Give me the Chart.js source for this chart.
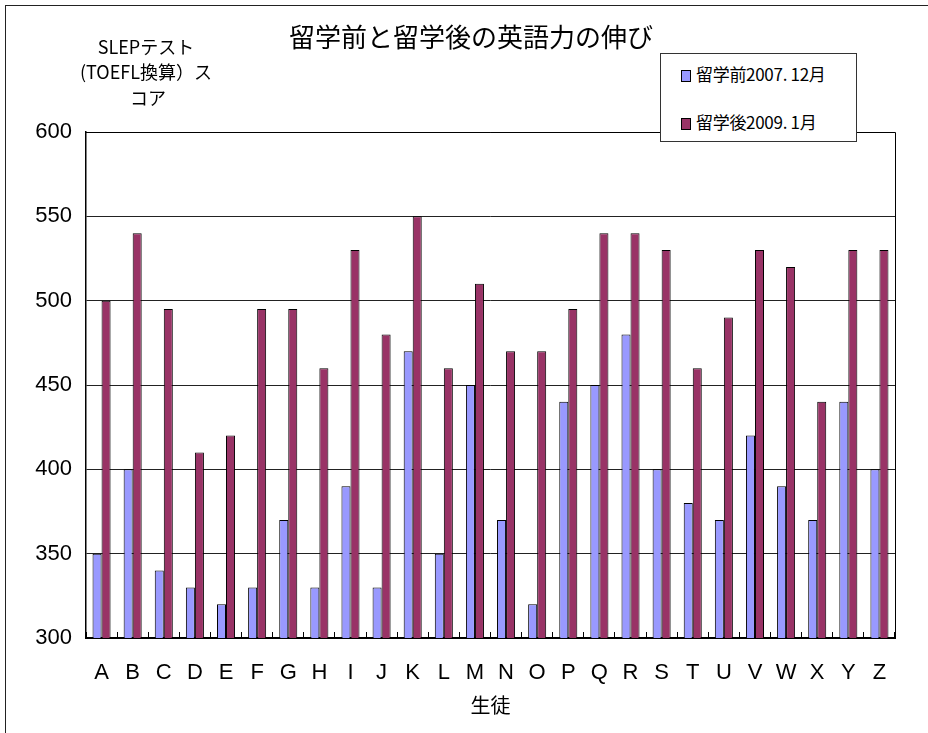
<!DOCTYPE html>
<html>
<head>
<meta charset="utf-8">
<script src="https://cdn.jsdelivr.net/npm/chart.js@4/dist/chart.umd.min.js"></script>
<style>
  html, body { margin: 0; padding: 0; background: #fff; overflow: hidden; }
  #wrap { position: relative; width: 928px; height: 733px; }
  #frame { position: absolute; left: 5px; top: 5px; width: 1000px; height: 1000px; border: 1px solid #222; pointer-events: none; }
  #legend { position: absolute; left: 660px; top: 53px; width: 195px; height: 87px; border: 1px solid #333;
            background: #fff; font-family: 'Noto Sans CJK JP', sans-serif; font-size: 17px; color: #000; }
  .item { position: absolute; left: 20px; height: 22px; line-height: 22px; white-space: nowrap; letter-spacing: -0.3px; }
  .box { display: inline-block; width: 8px; height: 10px; border: 1px solid #000; margin-right: 5px; vertical-align: -1px; }
</style>
</head>
<body>
<div id="wrap">
  <canvas id="c" width="928" height="733"></canvas>
  <div id="frame"></div>
  <div id="legend">
    <div class="item" style="top:9px"><span class="box" style="background:#9999ff"></span>留学前2007. 12月</div>
    <div class="item" style="top:57px"><span class="box" style="background:#993366"></span>留学後2009. 1月</div>
  </div>
</div>
<script>
'use strict';
// data
const students = ['A','B','C','D','E','F','G','H','I','J','K','L','M','N','O','P','Q','R','S','T','U','V','W','X','Y','Z'];
const before2007 = [350,400,340,330,320,330,370,330,390,330,470,350,450,370,320,440,450,480,400,380,370,420,390,370,440,400];
const after2009  = [500,540,495,410,420,495,495,460,530,480,550,460,510,470,470,495,540,540,530,460,490,530,520,440,530,530];
const seriesNames = ['留学前2007. 12月', '留学後2009. 1月'];
const titleText = '留学前と留学後の英語力の伸び';
const yTitleLines = ['SLEPテスト', '(TOEFL換算）ス', 'コア'];
const xTitleText = '生徒';

const NUM = "'Liberation Sans', Arial, sans-serif";
const CJK = "'Noto Sans CJK JP', sans-serif";

// title, y label and the top/right frame of the plot area
const decor = {
  id: 'decor',
  afterDraw(chart){
    const ctx = chart.ctx, a = chart.chartArea;
    ctx.save();
    ctx.strokeStyle = '#000';
    ctx.lineWidth = 1;
    ctx.beginPath();
    ctx.moveTo(a.left, a.top + 0.5); ctx.lineTo(a.right + 0.5, a.top + 0.5); ctx.lineTo(a.right + 0.5, a.bottom);
    ctx.stroke();
    ctx.fillStyle = '#000';
    ctx.textAlign = 'center';
    ctx.textBaseline = 'middle';
    ctx.font = '26px ' + CJK;
    ctx.fillText(titleText, 471, 37);
    ctx.font = '18px ' + CJK;
    ctx.fillText(yTitleLines[0], 146, 47);
    ctx.fillText(yTitleLines[1], 146, 72);
    ctx.fillText(yTitleLines[2], 148, 98);
    ctx.restore();
  }
};

new Chart(document.getElementById('c'), {
  type: 'bar',
  data: {
    labels: students,
    datasets: [
      { label: seriesNames[0], data: before2007, backgroundColor: '#9999ff', borderColor: '#000', borderWidth: 1, borderSkipped: false },
      { label: seriesNames[1], data: after2009, backgroundColor: '#993366', borderColor: '#000', borderWidth: 1, borderSkipped: false }
    ]
  },
  options: {
    responsive: false,
    animation: false,
    layout: { padding: { left: 0, top: 132, right: 33, bottom: 0 } },
    datasets: { bar: { barPercentage: 1, categoryPercentage: 0.58 } },
    plugins: { legend: { display: false }, title: { display: false }, tooltip: { enabled: false } },
    scales: {
      x: {
        grid: { display: true, offset: true, drawOnChartArea: false, drawTicks: true, tickLength: -6, color: '#000' },
        border: { color: '#000', width: 2 },
        ticks: { color: '#000', font: { family: NUM, size: 22 }, padding: 28, maxRotation: 0 },
        title: { display: true, text: xTitleText, color: '#000', font: { family: CJK, size: 20 }, padding: { top: 4, bottom: 16 } },
        afterFit(s){ s.height = 95; }
      },
      y: {
        min: 300, max: 600,
        ticks: { stepSize: 50, color: '#000', font: { family: NUM, size: 22 }, padding: 14 },
        grid: { color: '#222', drawTicks: false },
        border: { color: '#000', width: 1.5 },
        afterFit(s){ s.width = 86; }
      }
    }
  },
  plugins: [decor]
});
</script>
</body>
</html>
